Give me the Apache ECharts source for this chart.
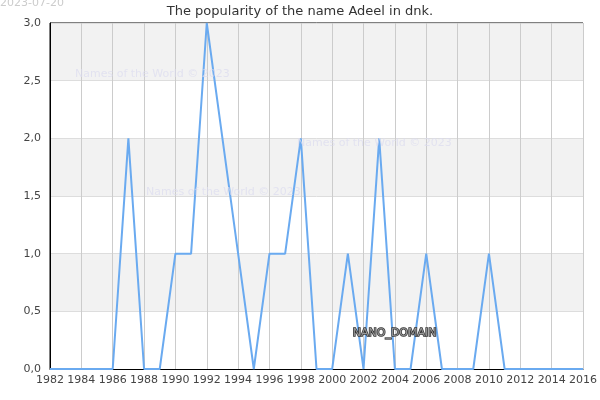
<!DOCTYPE html>
<html><head><meta charset="utf-8">
<script src="https://cdn.jsdelivr.net/npm/echarts@6/dist/echarts.min.js"></script>
<style>html,body{margin:0;padding:0;background:#fff}#c{width:600px;height:400px}</style>
</head><body><div id="c"></div>
<script>
const years = [1982,1983,1984,1985,1986,1987,1988,1989,1990,1991,1992,1993,1994,1995,1996,1997,1998,1999,2000,2001,2002,2003,2004,2005,2006,2007,2008,2009,2010,2011,2012,2013,2014,2015,2016];
const counts = [0,0,0,0,0,2,0,0,1,1,3,2,1,0,1,1,2,0,0,1,0,2,0,0,1,0,0,0,1,0,0,0,0,0,0];
const titleText = 'The popularity of the name Adeel in dnk.';
const dateText = '2023-07-20';
const watermark = 'Names of the World © 2023';
const domainText = 'NANO_DOMAIN';

const chart = echarts.init(document.getElementById('c'), null, {renderer:'canvas'});
const font = 'DejaVu Sans';
chart.setOption({
  animation:false,
  title:{text:titleText,left:'center',top:0,textStyle:{fontFamily:font,fontSize:13,fontWeight:'normal',color:'#333'}},
  grid:{left:50,right:15,top:23,bottom:31,show:true,borderColor:'#000',borderWidth:1,backgroundColor:'transparent'},
  xAxis:{type:'value',min:1982,max:2016,interval:2,
    axisLine:{show:true,lineStyle:{color:'#000'}},axisTick:{show:false},
    axisLabel:{fontFamily:font,fontSize:11,color:'#444',margin:6,formatter:v=>String(v)},
    splitLine:{show:true,lineStyle:{color:'#ccc',width:1}}},
  yAxis:{type:'value',min:0,max:3,interval:0.5,
    axisLine:{show:true,lineStyle:{color:'#000'}},axisTick:{show:false},
    axisLabel:{fontFamily:font,fontSize:11,color:'#444',margin:9,formatter:v=>v.toFixed(1).replace('.',',')},
    splitLine:{show:true,lineStyle:{color:'#ddd',width:1}},
    splitArea:{show:true,areaStyle:{color:['#ffffff','#f2f2f2']}}},
  series:[{type:'line',data:years.map((y,i)=>[y,counts[i]]),symbol:'none',
    lineStyle:{color:'#6aaaf0',width:2},z:3}],
  graphic:[
    {type:'text',left:0,top:-2,style:{text:dateText,fontFamily:font,fontSize:11,fill:'#ccc'}},
    {type:'text',left:75,top:69,style:{text:watermark,fontFamily:font,fontSize:11,fill:'rgba(220,220,240,0.7)'},z:10},
    {type:'text',left:146,top:187,style:{text:watermark,fontFamily:font,fontSize:11,fill:'rgba(220,220,240,0.7)'},z:10},
    {type:'text',left:297,top:138,style:{text:watermark,fontFamily:font,fontSize:11,fill:'rgba(220,220,240,0.7)'},z:10},
    {type:'text',left:352,top:327,style:{text:domainText,fontFamily:font,fontSize:11,fill:'#999',stroke:'#333',lineWidth:1.5},z:10}
  ]
});
</script></body></html>
